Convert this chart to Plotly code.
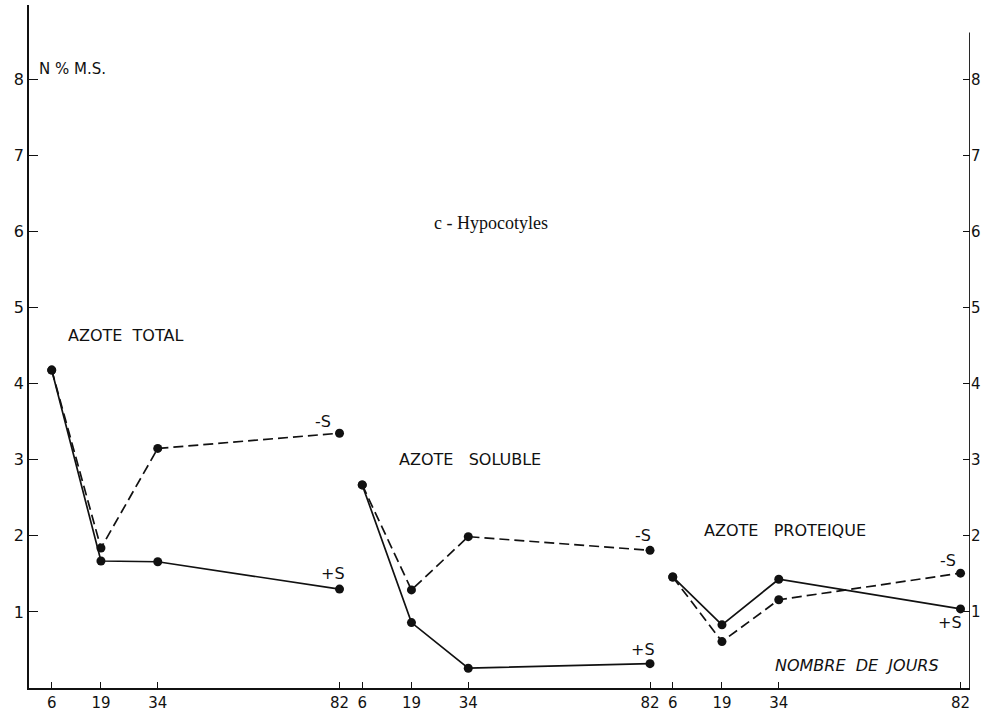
import plotly.graph_objects as go

# Sampling days (same for each of the three nitrogen fractions)
days = [6, 19, 34, 82]
day_labels = ["6", "19", "34", "82"]

# N % dry matter, hypocotyls; "-S" = sulphur-deficient, "+S" = with sulphur
total_minus = [4.18, 1.84, 3.15, 3.35]
total_plus = [4.18, 1.67, 1.66, 1.30]
soluble_minus = [2.67, 1.29, 1.99, 1.81]
soluble_plus = [2.67, 0.86, 0.26, 0.32]
protein_minus = [1.46, 0.61, 1.16, 1.51]
protein_plus = [1.46, 0.83, 1.43, 1.04]

y_ticks = [1, 2, 3, 4, 5, 6, 7, 8]

# each fraction is drawn on its own day scale, shifted along a shared axis
PANEL_SHIFT = 82
panels = [
    ("y", total_minus, total_plus),
    ("y", soluble_minus, soluble_plus),
    ("y2", protein_minus, protein_plus),
]

INK = "#111111"
FONT = "DejaVu Sans"
X_RANGE = [0, 248.5]
Y_RANGE = [0, 8.98]

fig = go.Figure()

tickvals, ticktext = [], []
for k, (yax, minus, plus) in enumerate(panels):
    xs = [d + k * PANEL_SHIFT for d in days]
    tickvals += xs
    ticktext += day_labels
    fig.add_trace(go.Scatter(
        x=xs, y=minus, yaxis=yax, mode="lines+markers",
        line=dict(color=INK, width=1.7, dash="10px,5px"),
        marker=dict(color=INK, size=9), showlegend=False, hoverinfo="skip"))
    fig.add_trace(go.Scatter(
        x=xs, y=plus, yaxis=yax, mode="lines+markers",
        line=dict(color=INK, width=1.7),
        marker=dict(color=INK, size=9), showlegend=False, hoverinfo="skip"))

axis_font = dict(family=FONT, size=16, color=INK)

fig.update_layout(
    width=989, height=712,
    margin=dict(l=29, r=19, t=5, b=24, autoexpand=False),
    paper_bgcolor="white", plot_bgcolor="white",
    xaxis=dict(range=X_RANGE, showgrid=False, zeroline=False, automargin=False,
               showline=True, linecolor=INK, linewidth=1.8,
               tickmode="array", tickvals=tickvals, ticktext=ticktext,
               ticks="inside", ticklen=6, tickwidth=1.3, tickcolor=INK,
               tickfont=dict(family=FONT, size=15, color=INK)),
    yaxis=dict(range=Y_RANGE, showgrid=False, zeroline=False, automargin=False,
               showline=True, linecolor=INK, linewidth=1.8,
               tickmode="array", tickvals=y_ticks,
               ticks="inside", ticklen=9, tickwidth=1.3, tickcolor=INK,
               tickfont=axis_font),
    yaxis2=dict(range=Y_RANGE, overlaying="y", side="right", automargin=False,
                showgrid=False, zeroline=False, showline=False,
                tickmode="array", tickvals=y_ticks,
                ticks="inside", ticklen=7, tickwidth=1.3, tickcolor=INK,
                tickfont=dict(family=FONT, size=15, color=INK)),
)

# right-hand scale line (shorter than the left one)
fig.add_shape(type="line", xref="x", yref="y", x0=X_RANGE[1], x1=X_RANGE[1],
              y0=0, y1=8.62, line=dict(color=INK, width=1.8))


def label(text, x, y, size=16, family=FONT, anchor="center", italic=False):
    fig.add_annotation(text=text, x=x, y=y, xref="x", yref="y",
                       xanchor=anchor, yanchor="middle", showarrow=False,
                       font=dict(family=family, size=size, color=INK,
                                 style="italic" if italic else "normal"))


label("N % M.S.", 2.1, 8.14, size=15, anchor="left")
label("c - Hypocotyles", 122, 6.12, size=18, family="Liberation Serif")
label("AZOTE&nbsp;&nbsp;TOTAL", 25.6, 4.64)
label("AZOTE&nbsp;&nbsp;&nbsp;SOLUBLE", 116.4, 3.01)
label("AZOTE&nbsp;&nbsp;&nbsp;PROTEIQUE", 199.6, 2.07)
label("NOMBRE&nbsp;&nbsp;DE&nbsp;&nbsp;JOURS", 218.6, 0.30, italic=True)

label("-S", 77.6, 3.50)
label("+S", 80.3, 1.51)
label("-S", 162.1, 2.01)
label("+S", 162.1, 0.50)
label("-S", 242.7, 1.68)
label("+S", 243.2, 0.86)

fig.write_html("out.html")
